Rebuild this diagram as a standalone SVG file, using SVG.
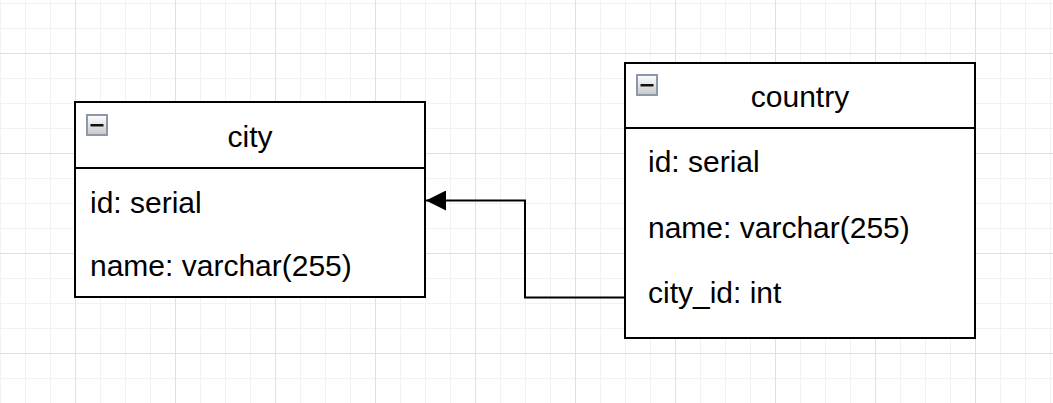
<svg xmlns="http://www.w3.org/2000/svg" width="1053" height="403" viewBox="0 0 1053 403">
  <defs>
    <pattern id="minor" width="25" height="25" patternUnits="userSpaceOnUse" x="0" y="3">
      <path d="M0 0.5H25M0.5 0V25" fill="none" stroke="#f2f2f2" stroke-width="1"/>
    </pattern>
    <pattern id="major" width="100" height="100" patternUnits="userSpaceOnUse" x="75" y="53">
      <path d="M0 0.5H100M0.5 0V100" fill="none" stroke="#e0e0e0" stroke-width="1"/>
    </pattern>
    <linearGradient id="btnFill" x1="0" y1="0" x2="0" y2="1">
      <stop offset="0" stop-color="#ffffff"/>
      <stop offset="1" stop-color="#c8c8c8"/>
    </linearGradient>
    <marker id="arrow" markerWidth="20" markerHeight="20" refX="20" refY="10" orient="auto" markerUnits="userSpaceOnUse">
      <path d="M0 0L20 10L0 20Z" fill="#000"/>
    </marker>
    <g id="collapse">
      <rect x="1" y="1" width="20" height="20" fill="url(#btnFill)" stroke="#8d97aa" stroke-width="2"/>
      <rect x="4.5" y="10" width="13" height="2.5" fill="#111"/>
    </g>
  </defs>
  <style>
    .box { fill: #fff; stroke: #000; stroke-width: 2; }
    .sep { stroke: #000; stroke-width: 2; }
    .title { font-family: "Liberation Sans", Arial, sans-serif; font-size: 30px; fill: #000; text-anchor: middle; }
    .field { font-family: "Liberation Sans", Arial, sans-serif; font-size: 30px; fill: #000; }
    .edge { fill: none; stroke: #000; stroke-width: 2; }
  </style>

  <!-- background grid -->
  <rect width="1053" height="403" fill="#fff"/>
  <rect width="1053" height="403" fill="url(#minor)"/>
  <rect width="1053" height="403" fill="url(#major)"/>

  <!-- city table -->
  <g id="city">
    <rect class="box" x="75" y="102" width="350" height="195"/>
    <line class="sep" x1="75" y1="168" x2="425" y2="168"/>
    <use href="#collapse" x="86" y="114"/>
    <text class="title" x="250" y="147">city</text>
    <text class="field" x="90" y="213">id: serial</text>
    <text class="field" x="90" y="276">name: varchar(255)</text>
  </g>

  <!-- country table -->
  <g id="country">
    <rect class="box" x="625" y="63" width="350" height="275"/>
    <line class="sep" x1="625" y1="128" x2="975" y2="128"/>
    <use href="#collapse" x="636" y="74"/>
    <text class="title" x="800" y="107">country</text>
    <text class="field" x="648" y="172">id: serial</text>
    <text class="field" x="648" y="238">name: varchar(255)</text>
    <text class="field" x="648" y="303">city_id: int</text>
  </g>

  <!-- foreign key: country.city_id -> city -->
  <g id="connectors">
    <path class="edge" d="M625 297.5H525V200.5H426" marker-end="url(#arrow)"/>
  </g>
</svg>
